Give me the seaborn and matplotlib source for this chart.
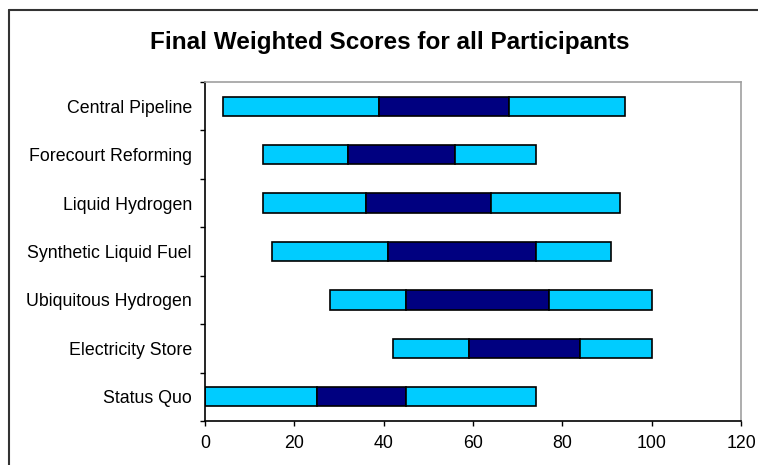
import pandas as pd
import seaborn as sns
import matplotlib.pyplot as plt
from matplotlib.lines import Line2D

# data
participants = ["Central Pipeline", "Forecourt Reforming", "Liquid Hydrogen",
                "Synthetic Liquid Fuel", "Ubiquitous Hydrogen", "Electricity Store",
                "Status Quo"]
score_min = [4, 13, 13, 15, 28, 42, 0]
score_low = [39, 32, 36, 41, 45, 59, 25]
score_high = [68, 56, 64, 74, 77, 84, 45]
score_max = [94, 74, 93, 91, 100, 100, 74]
x_ticks = [0, 20, 40, 60, 80, 100, 120]

df = pd.DataFrame({"participant": participants, "min": score_min, "low": score_low,
                   "high": score_high, "max": score_max})

sns.set_style("white")
plt.rcParams['font.family'] = ['Liberation Sans', 'DejaVu Sans']
plt.rcParams['text.color'] = 'black'
plt.rcParams['xtick.color'] = 'black'
plt.rcParams['ytick.color'] = 'black'

light = "#00CCFF"
dark = "#000080"

fig = plt.figure(figsize=(7.58, 4.65), dpi=100)
ax = fig.add_axes([205 / 758, 1 - 421 / 465, 536 / 758, 339 / 465])

# three segments per participant, each starting where the previous ends
segments = [("min", "low", light), ("low", "high", dark), ("high", "max", light)]
for start, stop, col in segments:
    sns.barplot(x=df[stop] - df[start], y=df["participant"], left=df[start],
                orient="h", color=col, edgecolor="black", linewidth=1.2,
                width=0.4, saturation=1, ax=ax)

ax.set_xlim(0, 120)
ax.set_ylim(len(participants) - 0.5, -0.5)
ax.set_xticks(x_ticks)
ax.set_xlabel("")
ax.set_ylabel("")

# ticks between categories, like the spreadsheet original
ax.set_yticks([i - 0.5 for i in range(len(participants) + 1)], minor=True)
ax.tick_params(axis="y", which="major", length=0, pad=9.5, labelsize=12.8, labelcolor="black")
ax.tick_params(axis="y", which="minor", left=True, length=3.6, width=1, color="black", direction="out")
ax.tick_params(axis="x", which="major", bottom=True, length=3.6, width=1, color="black",
               direction="out", pad=6.5, labelsize=12.8, labelcolor="black")

for side in ["left", "bottom"]:
    ax.spines[side].set_color("black")
    ax.spines[side].set_linewidth(1.2)
for side in ["top", "right"]:
    ax.spines[side].set_visible(True)
    ax.spines[side].set_color("#A0A0A0")
    ax.spines[side].set_linewidth(1.2)

fig.text(390 / 758, 1 - 42 / 465, "Final Weighted Scores for all Participants",
         ha="center", va="center", fontsize=17.5, fontweight="bold", color="black")

# outer chart frame (top and left edges visible)
fig.add_artist(Line2D([9 / 758, 1], [1 - 10 / 465, 1 - 10 / 465], color="#333333", lw=1.5,
                      transform=fig.transFigure))
fig.add_artist(Line2D([9 / 758, 9 / 758], [0, 1 - 10 / 465], color="#333333", lw=1.5,
                      transform=fig.transFigure))

fig.savefig("out.png", dpi=100)
